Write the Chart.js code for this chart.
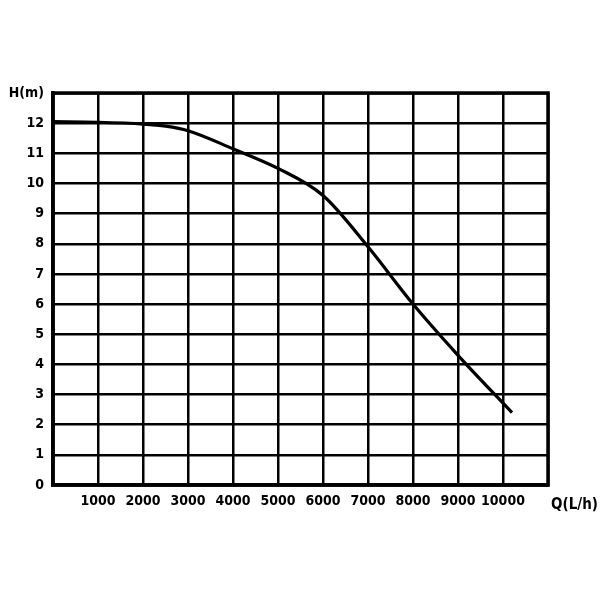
<!DOCTYPE html>
<html><head><meta charset="utf-8">
<script src="https://cdn.jsdelivr.net/npm/chart.js@4"></script>
<style>html,body{margin:0;padding:0;background:#fff}</style>
</head><body>
<canvas id="c" width="600" height="600"></canvas>
<script>
const flowQ = [0, 1000, 2000, 2500, 3000, 4000, 5000, 6000, 7000, 8000, 9000, 10200];
const headH = [12.05, 12.03, 11.97, 11.9, 11.75, 11.15, 10.5, 9.6, 7.9, 6.0, 4.3, 2.4];
const xTitle = 'Q(L/h)';
const yTitle = 'H(m)';
const FONT = {family: '"Liberation Sans Narrow", "DejaVu Sans Condensed", sans-serif', size: 14, weight: 'bold'};

const titlePlugin = {
  id: 'qtitle',
  afterDraw(chart) {
    const ctx = chart.ctx, a = chart.chartArea;
    ctx.save();
    ctx.font = 'bold 15px "Liberation Sans Narrow", "DejaVu Sans Condensed", sans-serif';
    ctx.fillStyle = '#000';
    ctx.textBaseline = 'middle';
    ctx.textAlign = 'left';
    ctx.fillText(xTitle, a.right + 3, a.bottom + 20);
    ctx.restore();
  }
};

new Chart(document.getElementById('c'), {
  type: 'line',
  data: {datasets: [{
    data: flowQ.map((q, i) => ({x: q, y: headH[i]})),
    borderColor: '#000', borderWidth: 3.2, pointRadius: 0,
    cubicInterpolationMode: 'monotone', fill: false
  }]},
  options: {
    responsive: false, animation: false,
    layout: {padding: {left: 3, right: 52, top: 93, bottom: 85}},
    plugins: {legend: {display: false}, tooltip: {enabled: false}},
    scales: {
      x: {
        type: 'linear', min: 0, max: 11000,
        afterFit: s => { s.height = 30; },
        afterBuildTicks: s => { s.ticks = []; for (let v = 0; v <= 11000; v += 1000) s.ticks.push({value: v}); },
        grid: {color: '#000', lineWidth: 2.5, drawTicks: false},
        border: {color: '#000', width: 3.5},
        ticks: {color: '#000', font: FONT, padding: 8, maxRotation: 0, autoSkip: false,
          callback: v => (v === 0 || v === 11000) ? '' : String(v)}
      },
      y: {
        min: 0, max: 13,
        afterFit: s => { s.width = 50; },
        afterBuildTicks: s => { s.ticks = []; for (let v = 0; v <= 13; v++) s.ticks.push({value: v}); },
        grid: {color: '#000', lineWidth: 2.5, drawTicks: false},
        border: {color: '#000', width: 3.5},
        ticks: {color: '#000', font: FONT, padding: 9, autoSkip: false,
          callback: v => v === 13 ? yTitle : String(v)}
      }
    }
  },
  plugins: [titlePlugin, {
    id: 'frame',
    afterDraw(chart) {
      const ctx = chart.ctx, a = chart.chartArea;
      ctx.save(); ctx.strokeStyle = '#000'; ctx.lineWidth = 3.5;
      ctx.strokeRect(a.left, a.top, a.right - a.left, a.bottom - a.top);
      ctx.restore();
    }
  }]
});
</script>
</body></html>
